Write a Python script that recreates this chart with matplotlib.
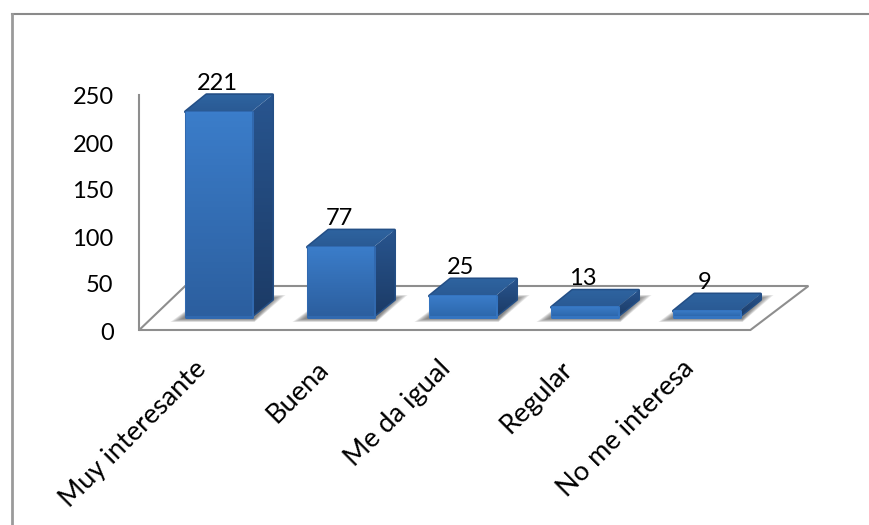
import numpy as np
import matplotlib
matplotlib.use('Agg')
import matplotlib.pyplot as plt
from matplotlib.colors import LinearSegmentedColormap
from matplotlib.patches import Polygon

categories = ['Muy interesante', 'Buena', 'Me da igual', 'Regular', 'No me interesa']
values = [221, 77, 25, 13, 9]
y_ticks = [0, 50, 100, 150, 200, 250]

W, H = 869, 525
PX_X = 122.0        # pixels per category
PX_Y = 0.94         # pixels per unit of value
X0, Y0 = 218.5, 330 # pixel of category 0 / value 0

plt.rcParams['font.family'] = ['Lato', 'DejaVu Sans']

fig = plt.figure(figsize=(W / 100, H / 100), dpi=100)
ax = fig.add_axes([0, 0, 1, 1])
ax.set_xlim(-X0 / PX_X, (W - X0) / PX_X)
ax.set_ylim((Y0 - H) / PX_Y, Y0 / PX_Y)
ax.axis('off')

half = 33 / PX_X
dep_x, dep_y = 21 / PX_X, 17 / PX_Y
lift = 12 / PX_Y    # bars stand on the floor, above the front edge
inset = 1.5 / PX_Y  # room for the rounded stroke
GREY = '#8e8e8e'


def gradient_poly(pts, top, bottom, zorder):
    pts = np.array(pts)
    cmap = LinearSegmentedColormap.from_list('g', [bottom, top])
    y0, y1 = pts[:, 1].min(), pts[:, 1].max()
    im = ax.imshow(np.linspace(1, 0, 64).reshape(-1, 1), cmap=cmap, aspect='auto',
                   extent=(pts[:, 0].min(), pts[:, 0].max(), y0, y1), zorder=zorder,
                   vmin=0, vmax=1)
    poly = Polygon(pts, closed=True, transform=ax.transData, fc='none', ec='none')
    ax.add_patch(poly)
    im.set_clip_path(poly)


# floor and wall
floor = [(-0.65, 0), (4.36, 0), (4.36 + 58 / PX_X, 44 / PX_Y), (-0.65 + 46 / PX_X, 44 / PX_Y)]
ax.add_patch(Polygon(floor, closed=True, fc='white', ec=GREY, lw=1.5, zorder=1, joinstyle='miter'))
ax.plot([-0.65, -0.65], [0, 250], color=GREY, lw=1.5, zorder=1)

for i, v in enumerate(values):
    l, r = i - half, i + half
    b, t = lift, lift + v

    # soft shadow on the floor, stacked layers shrinking towards the bar
    for k in range(8):
        g = k * 1.7 / PX_X
        gy = k * 0.45 / PX_Y
        s = [(l - 15 / PX_X + g, b - 4 / PX_Y + gy),
             (r + 3 / PX_X, b - 4 / PX_Y + gy),
             (r + dep_x + 13 / PX_X - g, b + dep_y + 6 / PX_Y - gy),
             (l + dep_x, b + dep_y + 6 / PX_Y - gy)]
        ax.add_patch(Polygon(s, closed=True, fc='#4a4a4a', ec='none', alpha=0.12, zorder=2))

    bi, ti = b + inset, t - inset

    # side, top, front
    ax.add_patch(Polygon([(r, bi), (r + dep_x, bi + dep_y), (r + dep_x, ti + dep_y),
                          (l + dep_x, ti + dep_y), (l, ti), (r, ti)], closed=True, fc='none',
                         ec='#244f86', lw=2.2, joinstyle='round', zorder=3))
    gradient_poly([(r, bi), (r + dep_x, bi + dep_y), (r + dep_x, ti + dep_y), (r, ti)],
                  '#28558f', '#1c3b66', 3)
    gradient_poly([(l, ti), (r, ti), (r + dep_x, ti + dep_y), (l + dep_x, ti + dep_y)],
                  '#2e639f', '#2a5a94', 3)
    ax.add_patch(Polygon([(l, bi), (r, bi), (r, ti), (l, ti)], closed=True, fc='none',
                         ec='#3169af' if v > 50 else '#3474c0', lw=2.2, joinstyle='round', zorder=4))
    gradient_poly([(l, bi), (r, bi), (r, ti), (l, ti)], '#3b7dca', '#2c5f9f' if v > 50 else '#2d68ad', 4)

    ax.text(i - 1.5 / PX_X, t + dep_y + 3.5 / PX_Y, str(v), ha='center', va='baseline',
            fontsize=17, color='black', zorder=6)

    ax.text(i - 25 / PX_X, -26 / PX_Y, categories[i], rotation=45, rotation_mode='anchor',
            ha='right', va='top', fontsize=19.5, color='black', zorder=6)

for t in y_ticks:
    ax.text(-0.86, t - 3 / PX_Y, str(t), ha='right', va='center', fontsize=17, color='black')

# outer frame of the chart, top and left only
ax.plot([12 / W, 1], [1 - 13.5 / H, 1 - 13.5 / H], color='#8a8a8a', lw=1.5, transform=ax.transAxes, clip_on=False)
ax.plot([12 / W, 12 / W], [0, 1 - 13.5 / H], color='#9a9a9a', lw=2, transform=ax.transAxes, clip_on=False)

ax.set_xlim(-X0 / PX_X, (W - X0) / PX_X)
ax.set_ylim((Y0 - H) / PX_Y, Y0 / PX_Y)
fig.savefig('out.png', dpi=100, facecolor='white')
